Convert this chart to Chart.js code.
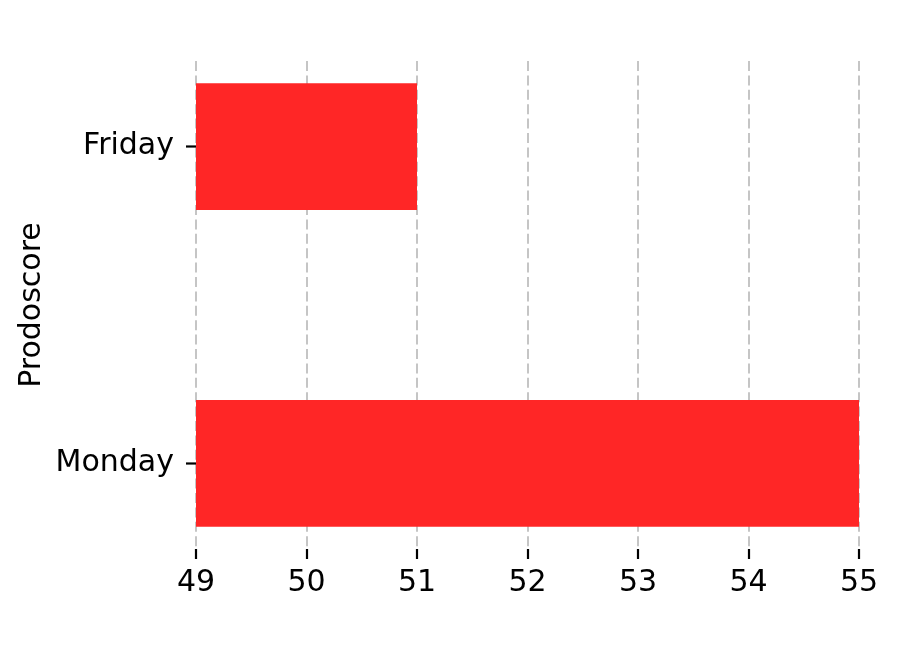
<!DOCTYPE html>
<html>
<head>
<meta charset="utf-8">
<script src="https://cdn.jsdelivr.net/npm/chart.js@4"></script>
<style>
html,body{margin:0;padding:0;background:#fff;}
#wrap{width:900px;height:645px;}
</style>
</head>
<body>
<div id="wrap"><canvas id="c" width="900" height="645"></canvas></div>
<script>
const categories = ['Monday', 'Friday'];
const values = [55, 51];
const xTicks = [49, 50, 51, 52, 53, 54, 55];
const yTitle = 'Prodoscore';

const FONT = {family: '"DejaVu Sans", sans-serif', size: 30};

new Chart(document.getElementById('c'), {
  type: 'bar',
  data: {
    datasets: [{
      data: categories.map((c, i) => ({x: values[i], y: i})),
      backgroundColor: 'rgb(255,38,38)',
      borderWidth: 0,
      categoryPercentage: 1,
      barPercentage: 0.4
    }]
  },
  options: {
    indexAxis: 'y',
    responsive: false,
    animation: false,
    events: [],
    layout: {padding: {left: 0, right: 41, top: 61, bottom: 0}},
    plugins: {legend: {display: false}, tooltip: {enabled: false}},
    scales: {
      x: {
        type: 'linear',
        min: xTicks[0],
        max: xTicks[xTicks.length - 1],
        z: 1,
        afterBuildTicks: s => { s.ticks = xTicks.map(v => ({value: v})); },
        afterFit: s => { s.height = 96; },
        border: {display: false, dash: [10, 4.4]},
        grid: {
          color: 'rgba(150,150,150,0.55)',
          lineWidth: 2,
          drawTicks: true,
          tickLength: 10,
          tickColor: '#000',
          tickWidth: 2.2,
          tickBorderDash: []
        },
        ticks: {font: FONT, color: '#000', padding: 6, maxRotation: 0}
      },
      y: {
        type: 'linear',
        offset: false,
        min: -0.27,
        max: 1.27,
        afterBuildTicks: s => { s.ticks = categories.map((c, i) => ({value: i})); },
        afterFit: s => { s.width = 196; },
        border: {display: false},
        grid: {
          offset: false,
          drawOnChartArea: false,
          drawTicks: true,
          tickLength: 10,
          tickColor: '#000',
          tickWidth: 2.2
        },
        ticks: {
          font: FONT, color: '#000', padding: 12,
          callback: v => categories[v]
        },
        title: {
          display: true, text: yTitle, font: FONT, color: '#000',
          padding: {top: 14, bottom: 0}
        }
      }
    }
  }
});
</script>
</body>
</html>
